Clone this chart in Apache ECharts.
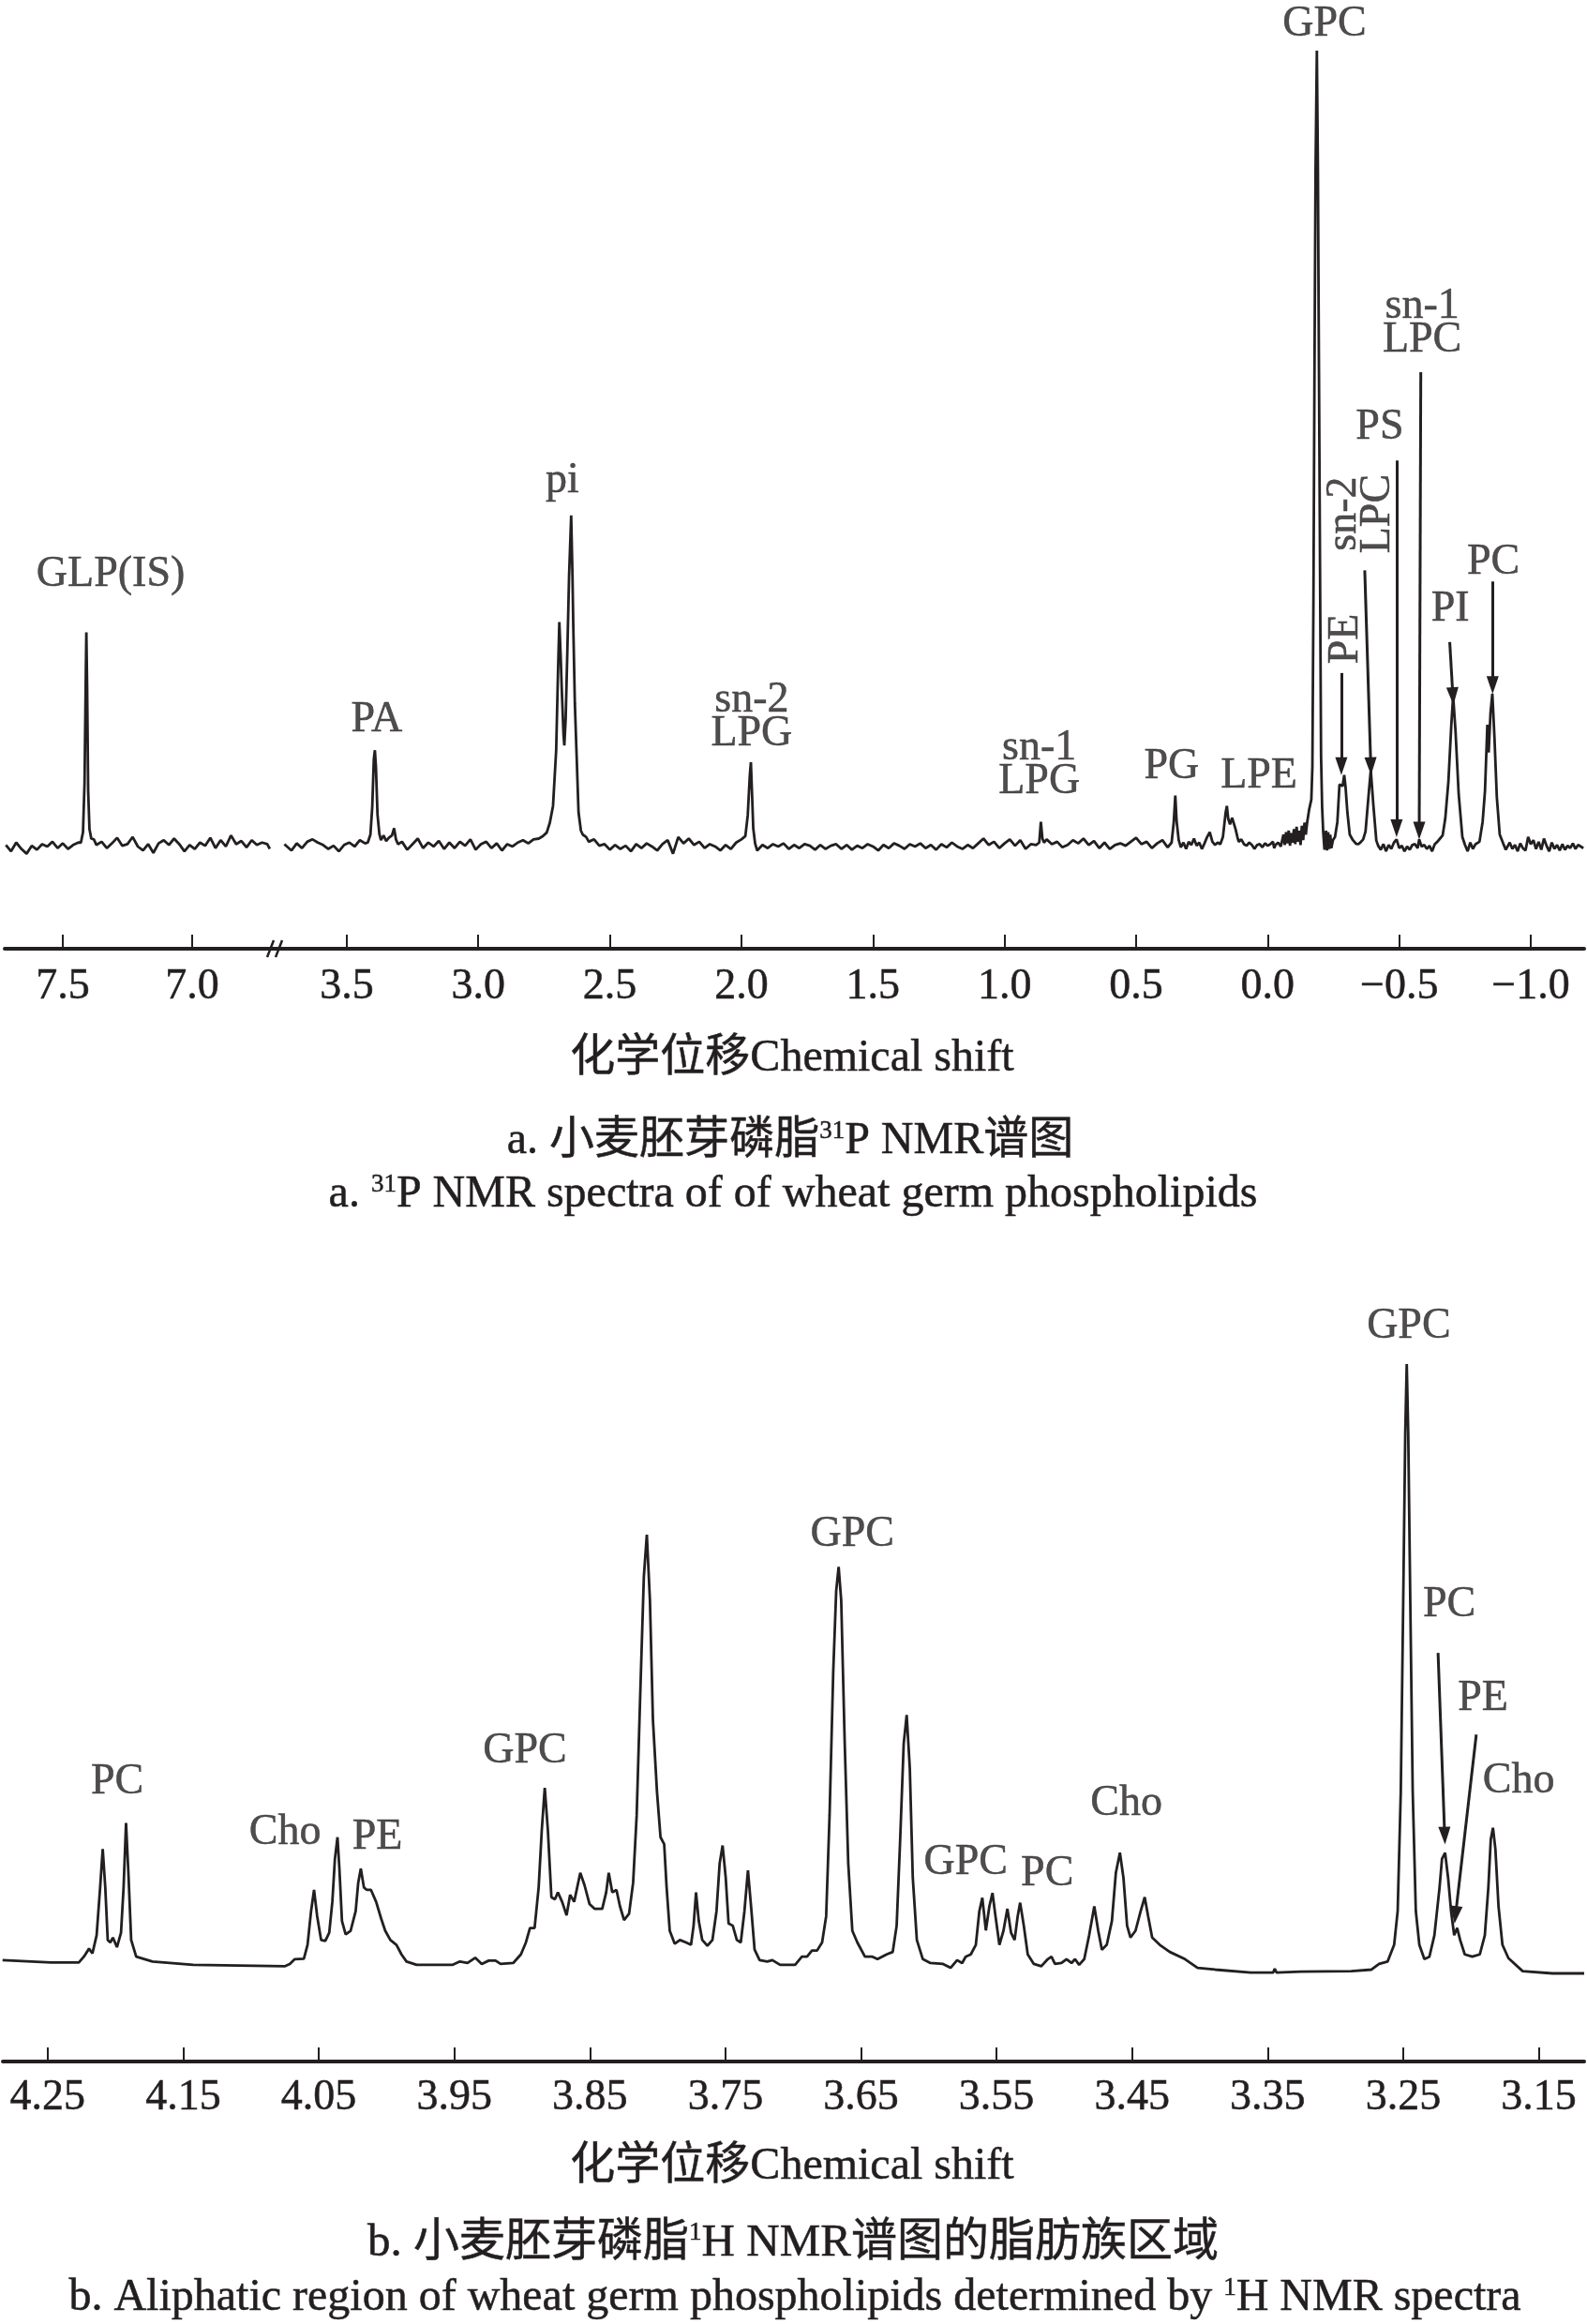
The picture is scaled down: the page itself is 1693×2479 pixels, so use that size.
<!DOCTYPE html>
<html><head><meta charset="utf-8">
<script src="https://cdn.jsdelivr.net/npm/echarts@6/dist/echarts.min.js"></script>
<style>html,body{margin:0;padding:0;background:#fff}#c{width:1693px;height:2479px}</style>
</head><body><div id="c"></div>
<script>
const INK = '#231f20';
const FONT = '"Liberation Serif","Times New Roman","Noto Sans CJK SC",serif';

// ---------- (a) 31P NMR : [ppm, intensity] ----------
const p31Left = [
[7.72,0.2],[7.70,-0.6],[7.68,0.5],[7.66,-0.3],[7.64,-0.9],[7.62,0.1],[7.60,-0.4],[7.58,0.3],[7.56,0.0],[7.54,0.6],
[7.52,-0.2],[7.50,0.4],[7.48,-0.3],[7.46,0.2],[7.44,0.5],[7.43,0.5],[7.422,1.8],[7.416,8],[7.411,22],[7.409,26.9],
[7.406,20],[7.402,7],[7.397,2.2],[7.39,1.0],[7.38,0.9],[7.37,0.2],[7.35,0.6],[7.33,-0.2],[7.31,0.4],[7.29,1.1],
[7.27,0.1],[7.25,0.3],[7.23,1.2],[7.21,0.0],[7.19,-0.5],[7.17,0.3],[7.15,-0.8],[7.13,0.4],[7.11,0.8],[7.09,0.2],
[7.07,1.0],[7.05,0.3],[7.03,-0.6],[7.01,0.2],[6.99,-0.3],[6.97,0.5],[6.95,0.1],[6.93,1.1],[6.91,-0.2],[6.89,0.8],
[6.87,0.0],[6.85,1.4],[6.83,0.3],[6.81,0.7],[6.79,-0.1],[6.77,0.8],[6.75,0.2],[6.73,0.5],[6.71,0.3],[6.70,-0.3]
];
const p31Right = [
[3.737,0.3],[3.71,-0.5],[3.69,0.4],[3.67,-0.2],[3.65,0.6],[3.63,0.9],[3.61,0.5],[3.59,0.2],[3.57,-0.3],[3.55,0.1],
[3.53,-0.6],[3.51,0.2],[3.49,0.5],[3.47,0.0],[3.45,0.8],[3.43,0.4],[3.42,0.5],[3.41,1.5],[3.403,5],[3.397,11],
[3.393,12.1],[3.389,10],[3.383,4],[3.376,1.6],[3.37,0.8],[3.36,1.4],[3.35,0.7],[3.34,1.1],[3.328,1.4],[3.32,2.3],
[3.313,0.9],[3.305,0.3],[3.29,0.6],[3.27,-0.4],[3.25,0.3],[3.23,1.0],[3.21,-0.2],[3.19,0.5],[3.17,0.0],[3.15,0.7],
[3.13,-0.3],[3.11,0.5],[3.09,-0.2],[3.07,0.6],[3.05,0.1],[3.03,0.9],[3.01,-0.4],[2.99,0.3],[2.97,0.6],[2.95,-0.2],
[2.93,0.4],[2.91,-0.5],[2.89,0.3],[2.87,0.0],[2.85,0.5],[2.83,0.8],[2.81,0.4],[2.79,0.9],[2.77,1.0],[2.755,1.3],
[2.74,1.75],[2.728,3.0],[2.716,5.1],[2.704,12.1],[2.697,22],[2.692,28.2],[2.687,24],[2.683,20],[2.676,14],[2.673,12.7],
[2.668,16],[2.662,23.9],[2.655,34],[2.647,41.6],[2.642,34],[2.639,27.8],[2.633,18],[2.627,12.1],[2.619,4.3],[2.61,2.0],
[2.603,1.5],[2.59,1.2],[2.58,0.6],[2.56,0.9],[2.54,0.1],[2.52,0.3],[2.50,-0.4],[2.48,0.2],[2.46,-0.3],[2.44,0.1],
[2.42,-0.6],[2.40,0.3],[2.38,-0.2],[2.36,0.4],[2.34,0.0],[2.32,-0.5],[2.30,0.3],[2.28,0.8],[2.26,-0.9],[2.24,1.2],
[2.22,0.4],[2.20,1.0],[2.18,0.2],[2.16,0.6],[2.14,-0.2],[2.12,0.3],[2.10,0.0],[2.08,-0.5],[2.06,0.2],[2.04,-0.3],
[2.02,0.5],[2.00,0.9],[1.985,1.3],[1.976,3.9],[1.968,9.0],[1.964,10.6],[1.960,7.0],[1.955,2.3],[1.948,0.4],[1.94,-0.5],
[1.92,0.2],[1.90,-0.2],[1.88,0.3],[1.86,0.0],[1.84,0.4],[1.82,-0.3],[1.80,0.2],[1.78,-0.2],[1.76,0.3],[1.74,0.1],
[1.72,-0.4],[1.70,0.2],[1.68,-0.3],[1.66,0.1],[1.64,0.3],[1.62,-0.3],[1.60,0.2],[1.58,-0.4],[1.56,0.1],[1.54,-0.2],
[1.52,0.3],[1.50,0.0],[1.48,-0.5],[1.46,0.2],[1.44,-0.2],[1.42,0.4],[1.40,0.1],[1.38,-0.3],[1.36,0.3],[1.34,0.0],
[1.32,0.4],[1.30,-0.2],[1.28,0.2],[1.26,-0.4],[1.24,0.3],[1.22,-0.1],[1.20,0.5],[1.18,0.0],[1.16,-0.3],[1.14,0.2],
[1.12,-0.2],[1.10,0.4],[1.08,1.0],[1.06,0.2],[1.04,0.6],[1.02,-0.2],[1.00,0.4],[0.98,0.9],[0.96,0.1],[0.94,0.8],
[0.92,-0.3],[0.90,0.3],[0.88,0.2],[0.868,0.5],[0.862,3.1],[0.856,1.0],[0.85,0.5],[0.84,0.9],[0.82,0.3],[0.80,0.6],
[0.78,-0.1],[0.76,0.2],[0.74,0.8],[0.72,0.4],[0.70,1.0],[0.68,0.2],[0.66,0.7],[0.64,-0.2],[0.62,0.5],[0.60,-0.3],
[0.58,0.2],[0.56,0.4],[0.54,0.1],[0.52,0.6],[0.50,1.1],[0.48,0.3],[0.46,0.6],[0.44,-0.2],[0.42,0.4],[0.40,0.8],
[0.38,-0.1],[0.365,0.5],[0.357,3.0],[0.351,6.4],[0.346,3.2],[0.338,0.8],[0.33,-0.1],[0.32,0.5],[0.31,-0.3],[0.30,0.6],
[0.29,0.2],[0.28,1.0],[0.27,0.1],[0.26,0.5],[0.25,-0.3],[0.24,0.4],[0.23,1.2],[0.22,1.8],[0.21,0.6],[0.20,0.2],
[0.19,0.5],[0.18,0.3],[0.17,1.2],[0.160,4.2],[0.155,5.1],[0.150,3.5],[0.143,2.8],[0.135,3.6],[0.128,3.7],[0.122,2.2],
[0.115,1.2],[0.11,0.6],[0.10,0.9],[0.09,0.3],[0.08,0.1],[0.07,0.5],[0.06,0.2],[0.05,-0.3],[0.04,0.2],[0.03,0.3],
[0.02,-0.1],[0.01,0.4],[0.00,0.1],[-0.01,0.3],[-0.02,0.6],[-0.025,-0.2],[-0.03,0.2],[-0.04,0.5],[-0.05,0.0],[-0.06,1.5],
[-0.065,0.2],[-0.07,1.8],[-0.075,0.4],[-0.08,2.0],[-0.085,0.1],[-0.09,1.7],[-0.095,0.5],[-0.10,2.2],[-0.105,0.3],[-0.11,2.5],
[-0.115,0.6],[-0.12,2.0],[-0.125,0.2],[-0.13,2.6],[-0.135,0.8],[-0.14,3.0],[-0.145,1.5],[-0.150,3.0],[-0.158,4.7],[-0.166,5.9],
[-0.170,10],[-0.174,31],[-0.178,60],[-0.182,85],[-0.187,100],[-0.191,85],[-0.195,60],[-0.199,35],[-0.203,11.3],[-0.207,5],
[-0.211,1.9],[-0.216,-0.4],[-0.222,2.0],[-0.226,-0.5],[-0.230,1.8],[-0.234,-0.3],[-0.238,1.5],[-0.242,-0.2],[-0.248,0.8],[-0.256,1.2],
[-0.265,3.1],[-0.273,7.8],[-0.280,8.0],[-0.285,7.6],[-0.291,9.0],[-0.296,7.5],[-0.303,4.3],[-0.312,1.5],[-0.324,0.8],[-0.336,0.35],
[-0.345,0.3],[-0.355,0.6],[-0.363,0.9],[-0.372,1.9],[-0.384,6.6],[-0.392,9.6],[-0.402,5.1],[-0.413,0.75],[-0.42,0.1],[-0.43,-0.4],
[-0.44,0.3],[-0.45,-0.6],[-0.46,0.2],[-0.47,-0.3],[-0.48,0.5],[-0.49,0.9],[-0.50,-0.2],[-0.51,0.1],[-0.52,-0.6],[-0.53,0.0],
[-0.54,-0.4],[-0.55,0.2],[-0.56,0.3],[-0.57,-0.2],[-0.576,0.9],[-0.585,0.0],[-0.595,0.2],[-0.605,-0.3],[-0.615,0.1],[-0.625,-0.6],
[-0.635,0.3],[-0.645,0.6],[-0.655,1.0],[-0.665,1.4],[-0.675,3.5],[-0.687,8.2],[-0.698,15.3],[-0.705,18.9],[-0.714,14.5],[-0.726,6.6],
[-0.740,1.2],[-0.750,0.2],[-0.760,-0.6],[-0.770,0.5],[-0.780,-0.3],[-0.790,0.3],[-0.805,0.6],[-0.817,3.1],[-0.826,7.0],[-0.835,15.3],
[-0.840,11.8],[-0.847,16.8],[-0.854,19.2],[-0.862,13.7],[-0.871,6.2],[-0.882,1.5],[-0.895,0.4],[-0.905,-0.4],[-0.92,0.5],[-0.93,-0.3],
[-0.94,0.2],[-0.95,-0.6],[-0.96,0.4],[-0.97,-0.2],[-0.98,-0.5],[-0.99,1.2],[-1.00,0.3],[-1.01,0.8],[-1.02,-0.3],[-1.03,0.6],
[-1.04,-0.4],[-1.05,1.0],[-1.06,0.1],[-1.07,-0.6],[-1.08,0.5],[-1.09,-0.3],[-1.10,0.2],[-1.11,-0.5],[-1.12,0.3],[-1.13,-0.4],
[-1.14,0.1],[-1.15,-0.2],[-1.16,0.4],[-1.17,-0.3],[-1.18,0.2],[-1.20,-0.2]
];
const p31TicksLeft = [7.5, 7.0];
const p31TicksRight = [3.5, 3.0, 2.5, 2.0, 1.5, 1.0, 0.5, 0.0, -0.5, -1.0];
// peak annotations: text, ppm, intensity, rotation
const p31LabelsLeft = [['GLP(IS)', 7.315, 34.2, 0]];
const p31LabelsRight = [
  ['PA', 3.386, 15.9, 0], ['pi', 2.681, 45.9, 0], ['sn-2\nLPG', 1.961, 16.3, 0],
  ['sn-1\nLPG', 0.868, 10.3, 0], ['PG', 0.365, 10.0, 0], ['LPE', 0.033, 8.8, 0],
  ['GPC', -0.216, 103.3, 0], ['PE', -0.298, 26.1, 90], ['sn-2\nLPC', -0.355, 41.8, 90],
  ['PS', -0.426, 52.7, 0], ['sn-1\nLPC', -0.587, 65.7, 0], ['PI', -0.694, 29.8, 0], ['PC', -0.858, 35.7, 0]
];
// arrows: [fromPpm, fromInt, toPpm, toInt]
const p31Arrows = [
  [-0.280, 21.8, -0.280, 10.1], [-0.369, 34.7, -0.392, 10.1], [-0.490, 48.5, -0.490, 2.3],
  [-0.582, 59.6, -0.576, 2.0], [-0.692, 25.7, -0.704, 18.9], [-0.855, 33.3, -0.855, 20.3]
];

// ---------- (b) 1H NMR : [ppm, intensity] ----------
const h1Spec = [
[4.2833,2.18],[4.2476,1.78],[4.227,1.78],[4.2233,2.74],[4.2195,4.06],[4.217,3.28],[4.2139,6.26],[4.2113,14.1],[4.2094,20.4],[4.2075,14.1],
[4.2057,5.48],[4.2038,5.08],[4.2019,5.88],[4.1989,4.3],[4.1959,6.66],[4.194,14.1],[4.1922,24.7],[4.1903,15.7],[4.1884,5.48],[4.1847,2.74],
[4.1727,1.95],[4.1427,1.4],[4.0752,1.17],[4.0714,1.55],[4.0677,2.34],[4.061,2.42],[4.0583,4.69],[4.0557,10.2],[4.0535,13.7],[4.0512,9.4],
[4.0483,5.48],[4.0452,5.32],[4.0423,6.66],[4.04,11.75],[4.0381,18.8],[4.0362,22.35],[4.0348,17.2],[4.0329,8.6],[4.0302,6.4],[4.0265,7.0],
[4.0228,10.2],[4.0209,14.9],[4.019,17.2],[4.0167,14.1],[4.0145,13.7],[4.0115,13.7],[4.0077,11.75],[4.004,9.0],[4.001,7.0],[3.9972,5.48],
[3.9927,4.69],[3.989,3.12],[3.9853,1.95],[3.9778,1.4],[3.9515,1.4],[3.9459,1.95],[3.9403,1.7],[3.9346,2.57],[3.9298,1.55],[3.9246,2.1],
[3.9196,2.1],[3.9159,1.55],[3.9066,1.7],[3.9009,3.12],[3.8972,5.08],[3.8942,7.45],[3.8908,7.45],[3.8878,14.1],[3.8855,23.5],[3.8833,30.45],
[3.881,23.5],[3.8784,12.5],[3.8758,12.15],[3.8736,13.3],[3.8705,11.75],[3.8672,9.55],[3.8646,12.9],[3.8616,11.75],[3.8571,16.5],[3.854,14.5],
[3.8503,11.4],[3.8466,10.6],[3.8409,10.6],[3.838,13.3],[3.8361,16.5],[3.8335,13.3],[3.8304,13.7],[3.8278,11],[3.8248,8.77],[3.8211,9.8],
[3.8181,14.9],[3.8155,25.9],[3.8129,45.5],[3.8102,65.1],[3.808,72.0],[3.8057,61.2],[3.8035,41.6],[3.8005,29.8],[3.7979,22.35],[3.7952,21.2],
[3.7934,14.1],[3.7911,7.0],[3.7874,4.85],[3.7836,5.48],[3.7791,5.08],[3.7754,4.69],[3.7735,7.83],[3.7717,13.3],[3.7697,8.6],[3.7671,5.48],
[3.7633,4.54],[3.7596,5.48],[3.7566,10.2],[3.7543,18.0],[3.7521,21.0],[3.7498,15.7],[3.7477,8.2],[3.7446,7.83],[3.7416,5.48],[3.7387,5.08],
[3.736,10.2],[3.7334,16.9],[3.7311,11],[3.7285,3.9],[3.7248,2.18],[3.7191,1.95],[3.7154,2.18],[3.7097,1.4],[3.6986,1.4],[3.6936,2.74],
[3.6898,2.74],[3.6862,3.75],[3.6824,3.75],[3.6787,5.08],[3.6757,9.4],[3.6732,25.9],[3.6705,49.4],[3.6683,62.8],[3.6665,66.7],[3.6646,61.2],
[3.662,37.7],[3.6594,18.0],[3.6564,7.0],[3.6527,5.08],[3.6471,2.74],[3.6416,2.74],[3.6378,2.34],[3.6311,3.12],[3.6266,3.52],[3.6237,7.83],
[3.6211,22.0],[3.6185,37.7],[3.6163,42.4],[3.614,33.7],[3.6118,15.7],[3.6088,5.48],[3.6044,2.34],[3.5988,1.7],[3.5895,1.55],[3.5839,0.92],
[3.5791,2.18],[3.5754,1.7],[3.5728,2.74],[3.569,3.12],[3.5653,4.69],[3.5627,10.2],[3.5605,12.4],[3.5579,7.05],[3.5553,11.0],[3.553,13.2],
[3.5508,9.4],[3.5479,4.69],[3.5449,7.0],[3.542,10.6],[3.5393,6.66],[3.5367,5.48],[3.5344,9.4],[3.5326,11.6],[3.5299,7.83],[3.527,3.12],
[3.5225,1.55],[3.517,1.17],[3.5122,2.34],[3.5095,2.74],[3.5069,1.55],[3.5021,1.7],[3.4984,2.34],[3.4947,1.7],[3.4921,2.34],[3.4891,1.4],
[3.4853,2.34],[3.4817,6.26],[3.4779,11.0],[3.475,7.0],[3.4723,3.9],[3.4687,4.69],[3.4649,8.6],[3.462,16.5],[3.459,19.8],[3.4564,15.7],
[3.4537,7.83],[3.4512,5.88],[3.4475,7.0],[3.4437,10.2],[3.4407,12.5],[3.4382,9.4],[3.4352,5.88],[3.4296,4.69],[3.4222,3.52],[3.411,2.34],
[3.4017,0.92],[3.3887,0.62],[3.3626,0.14],[3.3459,0.14],[3.3448,0.77],[3.3434,0.14],[3.3255,0.3],[3.2883,0.37],[3.2734,0.62],[3.2678,1.55],
[3.2615,1.95],[3.2567,4.69],[3.2541,10.2],[3.2518,29.8],[3.25,61.2],[3.2485,88.7],[3.2474,100],[3.2463,88.7],[3.2448,61.2],[3.243,29.8],
[3.2407,10.2],[3.2381,4.69],[3.2344,2.34],[3.2307,2.74],[3.227,6.26],[3.2232,14.1],[3.2214,18.8],[3.2191,19.8],[3.2169,15.7],[3.2147,10.2],
[3.2124,6.26],[3.2102,7.45],[3.208,5.48],[3.2046,3.12],[3.1991,2.74],[3.1935,3.12],[3.1898,6.26],[3.1872,14.1],[3.1854,22.0],[3.1838,23.9],
[3.182,20.4],[3.1797,11.0],[3.1768,4.69],[3.1724,2.5],[3.1619,0.37],[3.1399,0],[3.1165,0]
];
const h1Ticks = [4.25, 4.15, 4.05, 3.95, 3.85, 3.75, 3.65, 3.55, 3.45, 3.35, 3.25, 3.15];
const h1Labels = [
  ['PC', 4.1987, 31.4, 0], ['Cho', 4.0749, 23.1, 0], ['PE', 4.0068, 22.3, 0], ['GPC', 3.8979, 36.5, 0],
  ['GPC', 3.6564, 72.0, 0], ['GPC', 3.5727, 18.2, 0], ['PC', 3.5126, 16.3, 0], ['Cho', 3.4542, 27.8, 0],
  ['GPC', 3.2459, 106.2, 0], ['PC', 3.2160, 60.5, 0], ['PE', 3.1911, 45.1, 0], ['Cho', 3.1648, 31.5, 0]
];
const h1Arrows = [[3.2243, 52.6, 3.2194, 22.6], [3.1961, 39.2, 3.2114, 9.6]];

// ---------- helpers ----------
function axisX(gridIndex, min, max, ticks, digits, margin) {
  return {
    type: 'value', gridIndex, min, max, inverse: true,
    axisLine: { show: true, onZero: false, lineStyle: { color: INK, width: 4 } },
    axisTick: { show: true, inside: true, length: 15, customValues: ticks, lineStyle: { color: INK, width: 2 } },
    axisLabel: {
      show: true, customValues: ticks, margin, color: INK, fontFamily: FONT, fontSize: 46,
      textBorderColor: INK, textBorderWidth: 0.5,
      formatter: v => (v < 0 ? '\u2212' : '') + Math.abs(v).toFixed(digits)
    },
    splitLine: { show: false }
  };
}
function axisY(gridIndex, min, max) {
  return { type: 'value', gridIndex, min, max, show: false, splitLine: { show: false } };
}
function specSeries(xi, data, arrows) {
  const s = {
    type: 'line', xAxisIndex: xi, yAxisIndex: xi, data, showSymbol: false, symbol: 'none',
    lineStyle: { color: INK, width: 2.8 }, silent: true, z: 3
  };
  if (arrows) {
    s.markLine = {
      silent: true, symbol: ['none', 'triangle'], symbolSize: [13, 19], animation: false,
      lineStyle: { color: INK, width: 3, type: 'solid' }, label: { show: false },
      itemStyle: { color: INK },
      data: arrows.map(a => [{ coord: [a[0], a[1]] }, { coord: [a[2], a[3]] }])
    };
  }
  return s;
}
function labelSeries(xi, list) {
  return {
    type: 'scatter', xAxisIndex: xi, yAxisIndex: xi, symbol: 'circle', symbolSize: 0.1,
    itemStyle: { color: 'rgba(0,0,0,0)' }, silent: true, z: 5,
    label: {
      show: true, position: 'inside', color: INK, fontFamily: FONT, fontSize: 46, lineHeight: 36,
      textBorderColor: INK, textBorderWidth: 0.5,
      align: 'center', verticalAlign: 'middle', formatter: p => p.data.name
    },
    data: list.map(l => ({ name: l[0], value: [l[1], l[2]], label: { rotate: l[3] } }))
  };
}
function caption(x, y, text, size) {
  return {
    type: 'text', x, y, silent: true,
    style: {
      text, fill: INK, fontFamily: FONT, fontSize: size, lineHeight: size,
      stroke: INK, lineWidth: 0.5,
      align: 'center', verticalAlign: 'middle',
      rich: { sup: { fontSize: 27, lineHeight: 27, fill: INK, fontFamily: FONT, verticalAlign: 'top' } }
    }
  };
}

const chart = echarts.init(document.getElementById('c'), null, { renderer: 'canvas' });
chart.setOption({
  animation: false,
  backgroundColor: '#fff',
  grid: [
    { left: 5, top: 0, width: 295, height: 1012, outerBoundsMode: 'none' },
    { left: 300, top: 0, width: 1390, height: 1012, outerBoundsMode: 'none' },
    { left: 3, top: 1300, width: 1687, height: 899, outerBoundsMode: 'none' }
  ],
  xAxis: [
    axisX(0, 6.656, 7.7246, p31TicksLeft, 1, 18),
    axisX(1, -1.203, 3.749, p31TicksRight, 1, 18),
    axisX(2, 3.1165, 4.2831, h1Ticks, 2, 16)
  ],
  yAxis: [axisY(0, -12.84, 106.36), axisY(1, -12.84, 106.36), axisY(2, -14.46, 123.85)],
  series: [
    specSeries(0, p31Left, null),
    specSeries(1, p31Right, p31Arrows),
    specSeries(2, h1Spec, h1Arrows),
    labelSeries(0, p31LabelsLeft),
    labelSeries(1, p31LabelsRight),
    labelSeries(2, h1Labels)
  ],
  graphic: [
    { type: 'line', silent: true, shape: { x1: 285, y1: 1021, x2: 292, y2: 1003 }, style: { stroke: INK, lineWidth: 2.5 } },
    { type: 'line', silent: true, shape: { x1: 294, y1: 1021, x2: 301, y2: 1003 }, style: { stroke: INK, lineWidth: 2.5 } },
    caption(845, 1129, '化学位移Chemical shift', 48),
    caption(843, 1217, 'a. 小麦胚芽磷脂{sup|31}P NMR谱图', 48),
    caption(846, 1274, 'a. {sup|31}P NMR spectra of of wheat germ phospholipids', 48),
    caption(845, 2311, '化学位移Chemical shift', 48),
    caption(846, 2393, 'b. 小麦胚芽磷脂{sup|1}H NMR谱图的脂肪族区域', 49),
    caption(848, 2451, 'b. Aliphatic region of wheat germ phospholipids determined by {sup|1}H NMR spectra', 48)
  ]
});
</script></body></html>
